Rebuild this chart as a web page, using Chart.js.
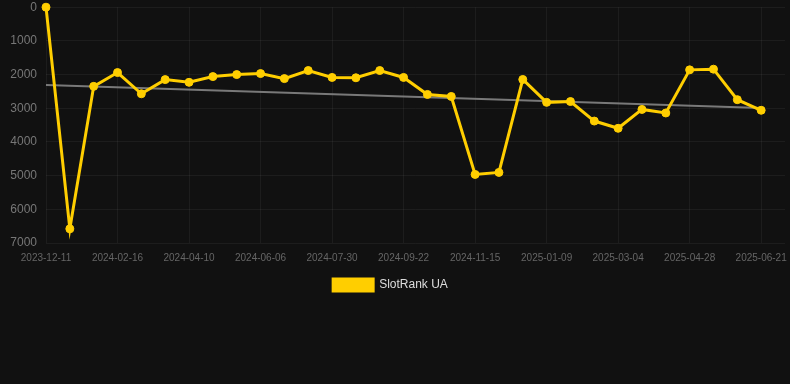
<!DOCTYPE html>
<html>
<head>
<meta charset="utf-8">
<script src="https://cdn.jsdelivr.net/npm/chart.js@4/dist/chart.umd.min.js"></script>
<style>
  html, body { margin: 0; padding: 0; background: #111111; }
  #wrap { width: 790px; height: 301px; }
</style>
</head>
<body>
<div id="wrap"><canvas id="rankChart"></canvas></div>
<script>
// dates du graphe (une étiquette sur trois est affichée)
const dates = [
  "2023-12-11", "2024-01-03", "2024-01-25", "2024-02-16", "2024-03-05", "2024-03-23",
  "2024-04-10", "2024-04-29", "2024-05-18", "2024-06-06", "2024-06-24", "2024-07-12",
  "2024-07-30", "2024-08-17", "2024-09-04", "2024-09-22", "2024-10-10", "2024-10-28",
  "2024-11-15", "2024-12-03", "2024-12-21", "2025-01-09", "2025-01-27", "2025-02-14",
  "2025-03-04", "2025-03-22", "2025-04-09", "2025-04-28", "2025-05-16", "2025-06-03",
  "2025-06-21", "2025-07-09"
]

// rang SlotRank UA
const rankUA = [
  0, 6580, 2350, 1940, 2570, 2150, 2230, 2060, 2000, 1970, 2120, 1880,
  2085, 2095, 1880, 2085, 2590, 2650, 4965, 4905, 2145, 2825, 2800, 3380,
  3595, 3035, 3140, 1860, 1840, 2745, 3060
]

// ligne de tendance (début et fin seulement)
const trendUA = [
  2310, null, null, null, null, null, null, null, null, null, null, null,
  null, null, null, null, null, null, null, null, null, null, null, null,
  null, null, null, null, null, null, 2990
]

const yTicks = [0, 1000, 2000, 3000, 4000, 5000, 6000, 7000]

const YELLOW = 'rgb(255, 206, 0)'
const FONT = 'Liberation Sans, Arial, sans-serif'
const GRID = 'rgba(255,255,255,0.05)'

const config = {
  type: 'line',
  data: {
    labels: dates,
    datasets: [{
      label: 'SlotRank UA',
      data: rankUA,
      borderColor: YELLOW,
      backgroundColor: YELLOW,
      borderWidth: 3,
      pointRadius: 4,
      pointBorderWidth: 1,
      pointBackgroundColor: YELLOW,
      pointBorderColor: YELLOW,
      tension: 0,
      clip: false
    }, {
      label: 'trend',
      data: trendUA,
      borderColor: 'rgba(140, 140, 140, 0.85)',
      borderWidth: 2,
      pointRadius: 0,
      spanGaps: true,
      tension: 0
    }]
  },
  options: {
    responsive: true,
    maintainAspectRatio: false,
    animation: false,
    layout: { padding: { left: -9, right: 0, top: 0, bottom: 0 } },
    scales: {
      x: {
        grid: { color: GRID, tickLength: 9, tickColor: 'rgba(0,0,0,0)' },
        border: { display: false },
        ticks: {
          autoSkip: false,
          maxRotation: 0,
          color: '#666666',
          padding: 0,
          font: { family: FONT, size: 10 },
          callback: function (val, i) { return i % 3 === 0 ? dates[i] : null }
        }
      },
      y: {
        reverse: true,
        min: yTicks[0],
        max: yTicks[yTicks.length - 1],
        afterFit: function (scale) { scale.width = 55 },
        grid: { color: GRID, tickLength: 9, tickColor: 'rgba(0,0,0,0)' },
        border: { display: false },
        ticks: {
          stepSize: 1000,
          color: '#777777',
          padding: 0,
          font: { family: FONT, size: 12 },
          callback: function (val) { return String(val) }
        }
      }
    },
    plugins: {
      legend: {
        position: 'bottom',
        labels: {
          color: '#dddddd',
          boxWidth: 40,
          boxHeight: 12,
          padding: 15,
          font: { family: FONT, size: 12 },
          filter: function (item) { return item.text !== 'trend' }
        }
      },
      tooltip: { enabled: false }
    }
  }
}

const rankChart = new Chart(document.getElementById('rankChart'), config)
</script>
</body>
</html>
